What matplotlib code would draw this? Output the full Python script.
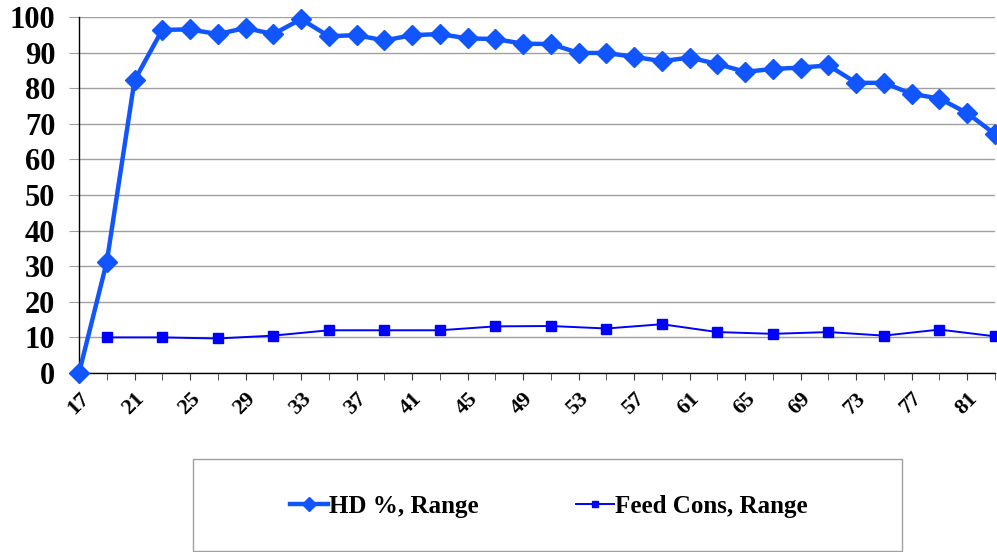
import matplotlib
matplotlib.use("Agg")
import matplotlib.pyplot as plt
from matplotlib.patches import Rectangle
import numpy as np

# weeks of age
weeks = list(range(17, 84, 2))
hd_range = [0, 31.2, 82.2, 96.4, 96.5, 95.2, 96.9, 95.2, 99.4, 94.6,
            94.9, 93.4, 94.9, 95.2, 94.0, 93.8, 92.5, 92.4, 89.9, 89.9,
            88.8, 87.6, 88.6, 86.8, 84.6, 85.4, 85.8, 86.4, 81.5, 81.5,
            78.4, 77.1, 73.0, 67.1]
feed_weeks = list(range(19, 84, 4))
feed_range = [10.0, 10.0, 9.7, 10.5, 12.0, 12.0, 12.0, 13.1, 13.2, 12.5,
              13.7, 11.5, 11.0, 11.5, 10.5, 12.2, 10.3]
tick_labels = [str(w) for w in range(17, 84, 4)]

plt.rcParams["font.family"] = ["Liberation Serif", "DejaVu Serif"]
plt.rcParams["font.weight"] = "bold"

fig = plt.figure(figsize=(9.97, 5.52), dpi=100)
ax = fig.add_axes([79 / 997, 1 - 373 / 552, 916 / 997, 356 / 552])

ax.plot(weeks, hd_range, color="#1155ff", lw=3.2, marker="D", ms=10.5,
        label="HD %, Range", zorder=4, clip_on=False)
ax.plot(feed_weeks, feed_range, color="#0000ff", lw=1.4, marker="s", ms=7,
        label="Feed Cons, Range", zorder=3, clip_on=False)

ax.set_xlim(17, 83)
ax.set_ylim(0, 100)
ax.set_yticks(np.arange(0, 101, 10))
ax.set_xticks(weeks, minor=True)
ax.set_xticks(range(17, 84, 4))
ax.set_xticklabels(tick_labels, rotation=45, ha="right", rotation_mode="anchor",
                   fontsize=16, fontweight="bold")
for lab in ax.get_yticklabels():
    lab.set_fontsize(22)
    lab.set_fontweight("bold")

ax.grid(axis="y", color="#a0a0a0", lw=1)
ax.set_axisbelow(True)
for s in ["top", "right"]:
    ax.spines[s].set_visible(False)
ax.spines["left"].set_linewidth(1)
ax.spines["bottom"].set_linewidth(1)
ax.tick_params(axis="y", length=7, color="#a0a0a0", pad=10)
ax.tick_params(axis="x", which="both", length=5, color="#404040", pad=6)

# legend box
fig.patches.append(Rectangle((193 / 997, 1 - 551 / 552), 709 / 997, 92 / 552,
                             transform=fig.transFigure, fill=False,
                             edgecolor="#a0a0a0", lw=1))
fig.legend(loc="center", bbox_to_anchor=(549 / 997, 1 - 506 / 552), ncol=2,
           frameon=False, prop={"size": 18, "weight": "bold"}, markerscale=0.7,
           handlelength=1.5, handletextpad=0.05, columnspacing=3.9)

fig.savefig("out.png", dpi=100)
